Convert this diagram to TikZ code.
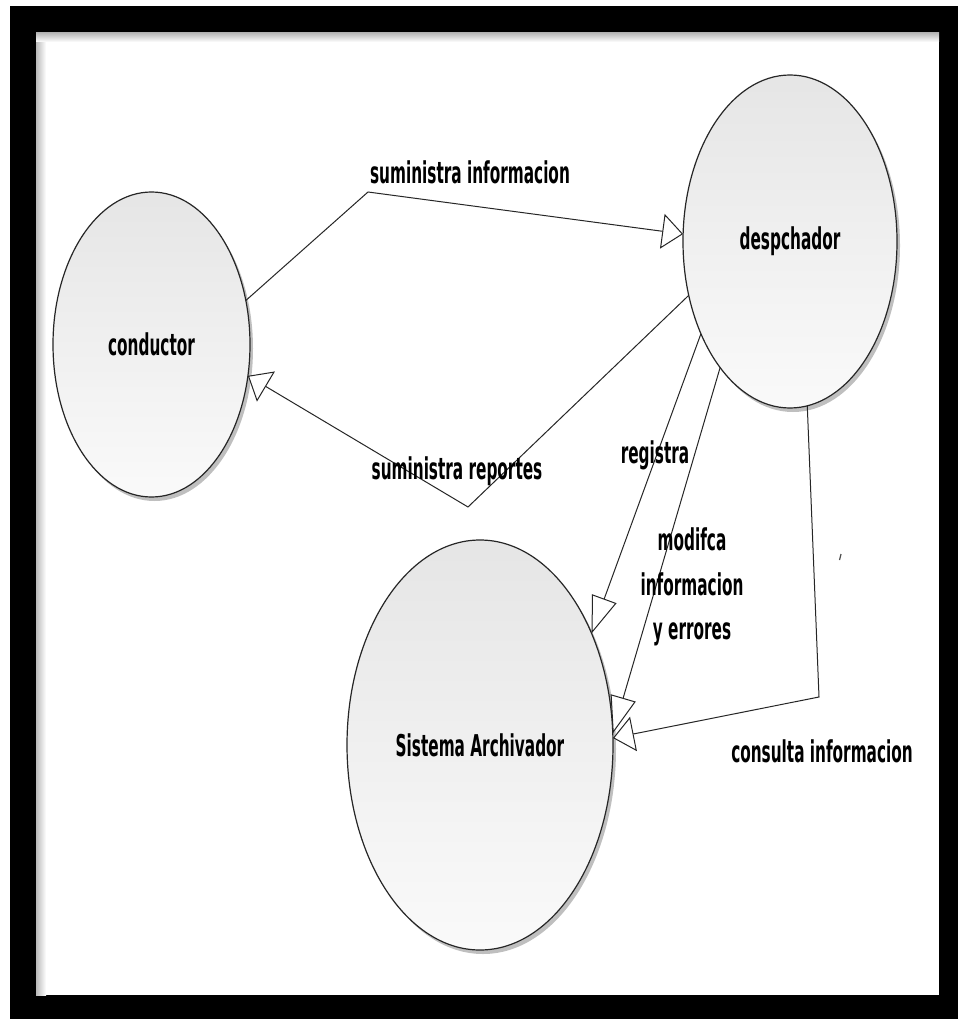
\documentclass[tikz,border=0pt]{standalone}
\usepackage{fontspec}
\newfontfamily\lblfont[FakeStretch=0.51]{DejaVu Sans}
\usetikzlibrary{shapes.geometric,arrows.meta,shadows}
\tikzset{
  actor/.style={ellipse, draw=black!85, line width=1.2pt, top color=gray!20, bottom color=gray!4,
    drop shadow={shadow xshift=3pt, shadow yshift=-4pt, opacity=0.25, fill=black},
    inner sep=0pt, outer sep=0pt, font=\lblfont\bfseries\fontsize{30}{36}\selectfont},
  lbl/.style={font=\lblfont\bfseries\fontsize{30}{44.5}\selectfont, inner sep=0pt, anchor=base},
  conn/.style={draw=black!85, line width=1pt},
  hh/.style={-{Triangle[length=21pt,width=35pt,fill=white]}},
  vv/.style={-{Triangle[length=37pt,width=26pt,fill=white]}}
}
\begin{document}
\begin{tikzpicture}[x=1pt,y=-1pt]
\useasboundingbox (0,0) rectangle (958,1019);
\fill[white] (0,0) rectangle (958,1019);
\fill[black] (10,6) rectangle (958,1019);
\fill[white] (36,33) rectangle (939,995);
\shade[left color=gray!55, right color=white] (36,33) rectangle (46,995);
\shade[top color=gray!55, bottom color=white] (36,33) rectangle (939,42);

\node[actor, minimum width=197pt, minimum height=305pt] (cond) at (151.5,344.5) {conductor};
\node[actor, minimum width=214pt, minimum height=333pt] (desp) at (790,241.5) {despchador};
\node[actor, minimum width=266pt, minimum height=410pt] (sis) at (480,745) {Sistema Archivador};

\coordinate (b1) at (368,192);
\coordinate (b2) at (468,507);
\coordinate (b3) at (819,697);

\draw[conn, hh] (cond.25.7) -- (b1) -- (desp.176.6);
\draw[conn, hh] (desp.208.7) -- (b2) -- (cond.342.8);
\draw[conn, vv] (desp.226.7) -- (sis.45.3);
\draw[conn, vv] (desp.241.8) -- (sis.5.2);
\draw[conn, hh] (desp.276.2) -- (b3) -- (sis.3.4);

\node[lbl] (l1) at (470,183) {suministra informacion};
\node[lbl] (l2) at (457,479) {suministra reportes};
\node[lbl] (l3) at (655,463) {registra};
\node[lbl, align=center, anchor=center] (l4) at (692,587) {modifca\\informacion\\y errores};
\node[lbl] (l5) at (822,762) {consulta informacion};

\draw[line width=1.2pt, black!70] (841,554) -- (839.5,560);
\end{tikzpicture}
\end{document}
